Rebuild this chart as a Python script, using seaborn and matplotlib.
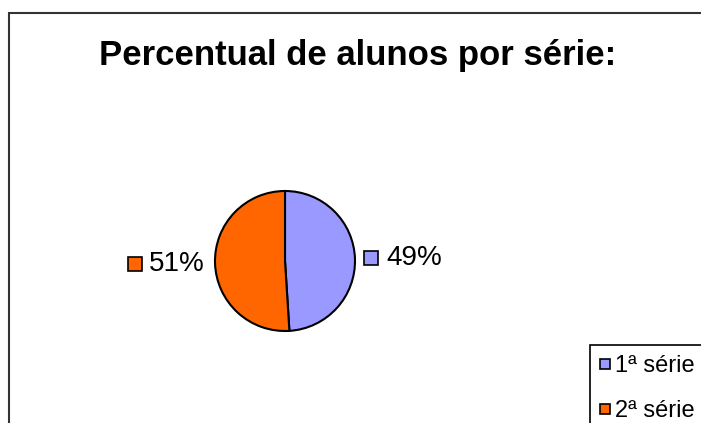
import matplotlib.pyplot as plt
import numpy as np
import seaborn as sns
from matplotlib.lines import Line2D
from matplotlib.patches import Rectangle

series = ['1ª série', '2ª série']
values = [49, 51]
colors = ['#9999FF', '#FF6600']
title = 'Percentual de alunos por série:'

sns.set_style('white')
plt.rcParams['font.family'] = ['Liberation Sans', 'DejaVu Sans']
plt.rcParams['text.color'] = 'black'

W, H = 701, 423
fig = plt.figure(figsize=(W / 100, H / 100), dpi=100)
ax = fig.add_axes([0, 0, 1, 1])

# outer frame (runs off the right and bottom edges)
fig.patches.append(Rectangle((9 / W, -0.1), 1.2, 1 - 13 / H + 0.1,
                             transform=fig.transFigure, fill=False,
                             ec='#333333', lw=1.5))

fig.text(358 / W, 1 - 65 / H, title, ha='center', va='baseline',
         fontsize=25, fontweight='bold')

cx, cy, r = 285, H - 261, 70
wedges, _ = ax.pie(values, colors=colors, startangle=90, counterclock=False,
                   center=(cx, cy), radius=r,
                   wedgeprops=dict(edgecolor='black', linewidth=1.5))
ax.set_xlim(0, W)
ax.set_ylim(0, H)
ax.set_aspect('equal')
ax.axis('off')

total = sum(values)
fig.canvas.draw()
for w, v, c in zip(wedges, values, colors):
    a = np.deg2rad((w.theta1 + w.theta2) / 2)
    lab = f'{v / total * 100:.0f}%'
    if np.cos(a) >= 0:
        x = cx + 1.23 * r * np.cos(a)
        y = cy + 1.23 * r * np.sin(a)
        ax.plot(x, y, marker='s', ms=10.5, mfc=c, mec='black', mew=1.2)
        ax.annotate(lab, (x, y), xytext=(11, 0), textcoords='offset points',
                    ha='left', va='center', fontsize=20)
    else:
        x = cx + 1.15 * r * np.cos(a)
        y = cy + 1.15 * r * np.sin(a)
        t = ax.annotate(lab, (x, y), xytext=(0, 0), textcoords='offset points',
                        ha='right', va='center', fontsize=20)
        fig.canvas.draw()
        bb = t.get_window_extent()
        sx = ax.transData.inverted().transform((bb.x0 - 14, 0))[0]
        ax.plot(sx, y, marker='s', ms=10.5, mfc=c, mec='black', mew=1.2)

# legend box is wider than the figure, so it gets cut at the right edge
handles = [Line2D([], [], ls='none', marker='s', ms=7, mfc=c, mec='black',
                  mew=1.2) for c in colors]
leg = ax.legend(handles, series, loc='upper left', mode='expand',
                bbox_to_anchor=(590 / W, 1 - 345 / H, 0.3, 0),
                bbox_transform=fig.transFigure, fontsize=17,
                frameon=True, fancybox=False, edgecolor='black',
                facecolor='white', framealpha=1,
                handlelength=0.45, handletextpad=0.2,
                labelspacing=0.97, borderpad=0.42, borderaxespad=0)
leg.get_frame().set_linewidth(1.2)

fig.savefig('out.png', dpi=100, facecolor='white')
